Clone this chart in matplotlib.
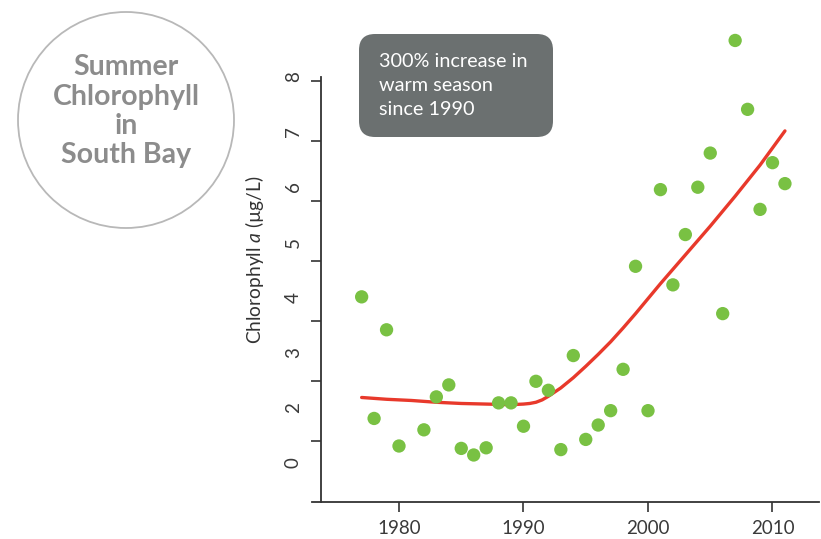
import matplotlib
matplotlib.use("Agg")
import matplotlib.pyplot as plt
from matplotlib.patches import FancyBboxPatch, Circle
import numpy as np

plt.rcParams['font.family'] = ['Lato', 'DejaVu Sans']
plt.rcParams['mathtext.fontset'] = 'custom'
plt.rcParams['mathtext.it'] = 'Lato:italic'
plt.rcParams['mathtext.rm'] = 'Lato'

# ---- data ----
years = [1977, 1978, 1979, 1980, 1982, 1983, 1984, 1985, 1986, 1987, 1988, 1989,
         1990, 1991, 1992, 1993, 1994, 1995, 1996, 1997, 1998, 1999, 2000, 2001,
         2002, 2003, 2004, 2005, 2006, 2007, 2008, 2009, 2010, 2011]
chl = [4.40, 2.37, 3.85, 1.91, 2.18, 2.73, 2.93, 1.87, 1.76, 1.88, 2.63, 2.63,
       2.24, 2.99, 2.84, 1.85, 3.42, 2.02, 2.26, 2.50, 3.19, 4.91, 2.50, 6.19,
       4.60, 5.44, 6.23, 6.80, 4.12, 8.68, 7.53, 5.86, 6.64, 6.29]

trend_years = [1977, 1979, 1981, 1983, 1985, 1987, 1989, 1990, 1990.5, 1991,
               1991.5, 1992, 1993, 1994, 1995, 1996, 1997, 1998, 1999, 2000,
               2001, 2002, 2003, 2005, 2007, 2009, 2011]
trend_vals = [2.72, 2.69, 2.67, 2.64, 2.62, 2.61, 2.60, 2.61, 2.62, 2.64,
              2.68, 2.74, 2.88, 3.05, 3.24, 3.44, 3.65, 3.88, 4.12, 4.37,
              4.62, 4.86, 5.10, 5.58, 6.08, 6.60, 7.17]

ytick_vals = [2, 3, 4, 5, 6, 7, 8]
ytick_labels = ['8', '7', '6', '5', '4', '3', '2', '0']
xtick_vals = [1980, 1990, 2000, 2010]
xtick_labels = ['1980', '1990', '2000', '2010']

title_lines = ['Summer', 'Chlorophyll', 'in', 'South Bay']
box_lines = ['300% increase in', 'warm season', 'since 1990']

# ---- figure ----
W, H = 821, 539
fig = plt.figure(figsize=(W / 100, H / 100), dpi=100)
ax = fig.add_axes([312 / W, 1 - 502 / H, (819 - 312) / W, (502 - 77) / H])

px_year = 12.45
px_unit = 60.5
ax.set_xlim(1980 - (399 - 312) / px_year, 1980 + (819 - 399) / px_year)
ax.set_ylim(8 - (502 - 77) / px_unit, 8)

axc = '#333333'
for s in ['top', 'right']:
    ax.spines[s].set_visible(False)
ax.spines['left'].set_position(('data', 1980 - (399 - 321) / px_year))
for s in ['left', 'bottom']:
    ax.spines[s].set_color(axc)
    ax.spines[s].set_linewidth(1.3)

ax.plot(trend_years, trend_vals, color='#e8392b', lw=2.4,
        solid_capstyle='round', solid_joinstyle='round', zorder=2)
ax.scatter(years, chl, s=92, color='#79c143', edgecolors='none', zorder=3,
           clip_on=False)

ax.set_xticks(xtick_vals)
ax.set_xticklabels(xtick_labels)
ax.tick_params(axis='x', direction='out', length=7, width=1.2, color=axc,
               labelsize=13.5, labelcolor='#3a3a3a', pad=6)

ax.set_yticks(ytick_vals)
ax.set_yticklabels([])
ax.tick_params(axis='y', which='major', direction='out', length=7, width=1.2,
               color=axc)
label_pos = np.linspace(8.07, 1.64, len(ytick_labels))
ax.set_yticks(label_pos, minor=True)
ax.set_yticklabels(ytick_labels, minor=True, rotation=90, va='center',
                   ha='center')
ax.tick_params(axis='y', which='minor', length=0, labelsize=13.5,
               labelcolor='#3a3a3a', pad=20)

fig.text(255 / W, 1 - 260 / H, 'Chlorophyll $a$ (µg/L)', rotation=90,
         ha='center', va='center', fontsize=13.8, color='#333333')

# circle title
fig.add_artist(Circle((126, H - 120), 108, transform=None, fill=False,
                      ec='#b8b8b8', lw=1.3))
for line, yb in zip(title_lines, [75, 105, 134, 163]):
    fig.text(126 / W, 1 - yb / H, line, ha='center', va='baseline',
             fontsize=20.5, fontweight='bold', color='#8c8c8c')

# annotation box
fig.add_artist(FancyBboxPatch((359, H - 137), 194, 103,
                              boxstyle='round,pad=0,rounding_size=16',
                              transform=None, fc='#6b7070', ec='none'))
for line, yb in zip(box_lines, [67, 91, 115]):
    fig.text(379 / W, 1 - yb / H, line, ha='left', va='baseline',
             fontsize=14.3, color='white')

fig.savefig('out.png', dpi=100)
